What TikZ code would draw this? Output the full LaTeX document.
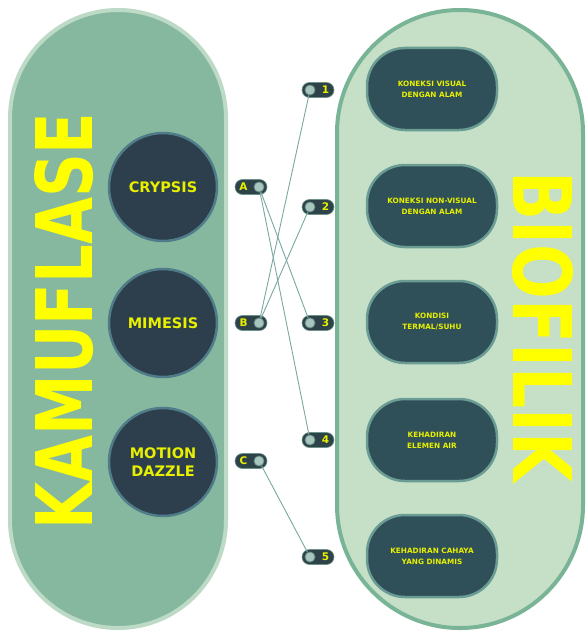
\documentclass[tikz,border=0pt]{standalone}
\usepackage{fontspec}
\setmainfont{DejaVu Sans}
\usepackage{graphicx}
\definecolor{leftfill}{HTML}{86B8A0}
\definecolor{leftborder}{HTML}{BCDAC6}
\definecolor{rightfill}{HTML}{C6E0C8}
\definecolor{rightborder}{HTML}{7AB496}
\definecolor{circfill}{HTML}{2D3F4D}
\definecolor{circborder}{HTML}{4F7C88}
\definecolor{boxfill}{HTML}{2F5058}
\definecolor{boxborder}{HTML}{6A9C94}
\definecolor{bigyellow}{HTML}{FFFF00}
\definecolor{smallyellow}{HTML}{E8F000}
\definecolor{pillfill}{HTML}{2E4249}
\definecolor{pillborder}{HTML}{6E928A}
\definecolor{dotfill}{HTML}{A6C6BE}
\definecolor{dotborder}{HTML}{6E8E88}
\definecolor{connline}{HTML}{7AA8A0}
\tikzset{
  circ/.style={circle, minimum size=108pt, inner sep=0pt, fill=circfill, draw=circborder,
    line width=2.5pt, text=smallyellow, align=center,
    font=\bfseries\fontsize{14.5}{17.5}\selectfont},
  bbox/.style={rectangle, rounded corners=38pt, minimum width=130pt, minimum height=82pt,
    inner sep=0pt, fill=boxfill, draw=boxborder, line width=2.5pt, text=smallyellow,
    align=center, font=\bfseries\fontsize{7.3}{11}\selectfont},
  pill/.style={rectangle, rounded corners=7.5pt, minimum width=32pt, minimum height=15pt,
    inner sep=0pt, fill=pillfill, draw=pillborder, line width=0.6pt},
  pdot/.style={circle, minimum size=10pt, inner sep=0pt, fill=dotfill, draw=dotborder, line width=0.8pt},
  plab/.style={inner sep=0pt, text=smallyellow, font=\bfseries\fontsize{10.5}{11}\selectfont},
  conn/.style={draw=connline, line width=0.9pt},
  bigtxt/.style={inner sep=0pt, text=bigyellow, font=\bfseries}
}
\begin{document}
\begin{tikzpicture}[x=1pt,y=-1pt]
\useasboundingbox (0,0) rectangle (588,634);
\fill[white] (0,0) rectangle (588,634);
% capsules
\draw[line width=4pt, draw=leftborder, fill=leftfill, rounded corners=107.9pt] (10,10) rectangle (226,628);
\draw[line width=4pt, draw=rightborder, fill=rightfill, rounded corners=122.9pt] (337,10) rectangle (583,628);
% big titles
\node[bigtxt, rotate=90] (kam) at (64,321) {\resizebox{417pt}{58pt}{KAMUFLASE}};
\node[bigtxt, rotate=-90] (bio) at (543,327) {\resizebox{311pt}{60pt}{BIOFILIK}};
% circles
\node[circ] (crypsis) at (163,187) {CRYPSIS};
\node[circ] (mimesis) at (163,323) {MIMESIS};
\node[circ] (motion) at (163,462) {MOTION\\DAZZLE};
% boxes
\node[bbox] (k1) at (432,89) {KONEKSI VISUAL\\DENGAN ALAM};
\node[bbox] (k2) at (432,206) {KONEKSI NON-VISUAL\\DENGAN ALAM};
\node[bbox] (k3) at (432,322) {KONDISI\\TERMAL/SUHU};
\node[bbox] (k4) at (432,440) {KEHADIRAN\\ELEMEN AIR};
\node[bbox] (k5) at (432,556) {KEHADIRAN CAHAYA\\YANG DINAMIS};
% left pills
\node[pill] (pa) at (251,187) {};
\node[pdot] (da) at (259,187) {};
\node[plab] (la) at (243.5,187) {A};
\node[pill] (pb) at (251,323) {};
\node[pdot] (db) at (259,323) {};
\node[plab] (lb) at (243.5,323) {B};
\node[pill] (pc) at (251,461) {};
\node[pdot] (dc) at (259,461) {};
\node[plab] (lc) at (243.5,461) {C};
% right pills
\node[pill] (p1) at (318,90) {};
\node[pdot] (d1) at (310,90) {};
\node[plab] (l1) at (325.5,90) {1};
\node[pill] (p2) at (318,207) {};
\node[pdot] (d2) at (310,207) {};
\node[plab] (l2) at (325.5,207) {2};
\node[pill] (p3) at (318,323) {};
\node[pdot] (d3) at (310,323) {};
\node[plab] (l3) at (325.5,323) {3};
\node[pill] (p4) at (318,440) {};
\node[pdot] (d4) at (310,440) {};
\node[plab] (l4) at (325.5,440) {4};
\node[pill] (p5) at (318,557) {};
\node[pdot] (d5) at (310,557) {};
\node[plab] (l5) at (325.5,557) {5};
% connectors
\draw[conn] (da) -- (d3);
\draw[conn] (da) -- (d4);
\draw[conn] (db) -- (d1);
\draw[conn] (db) -- (d2);
\draw[conn] (dc) -- (d5);
\end{tikzpicture}
\end{document}
